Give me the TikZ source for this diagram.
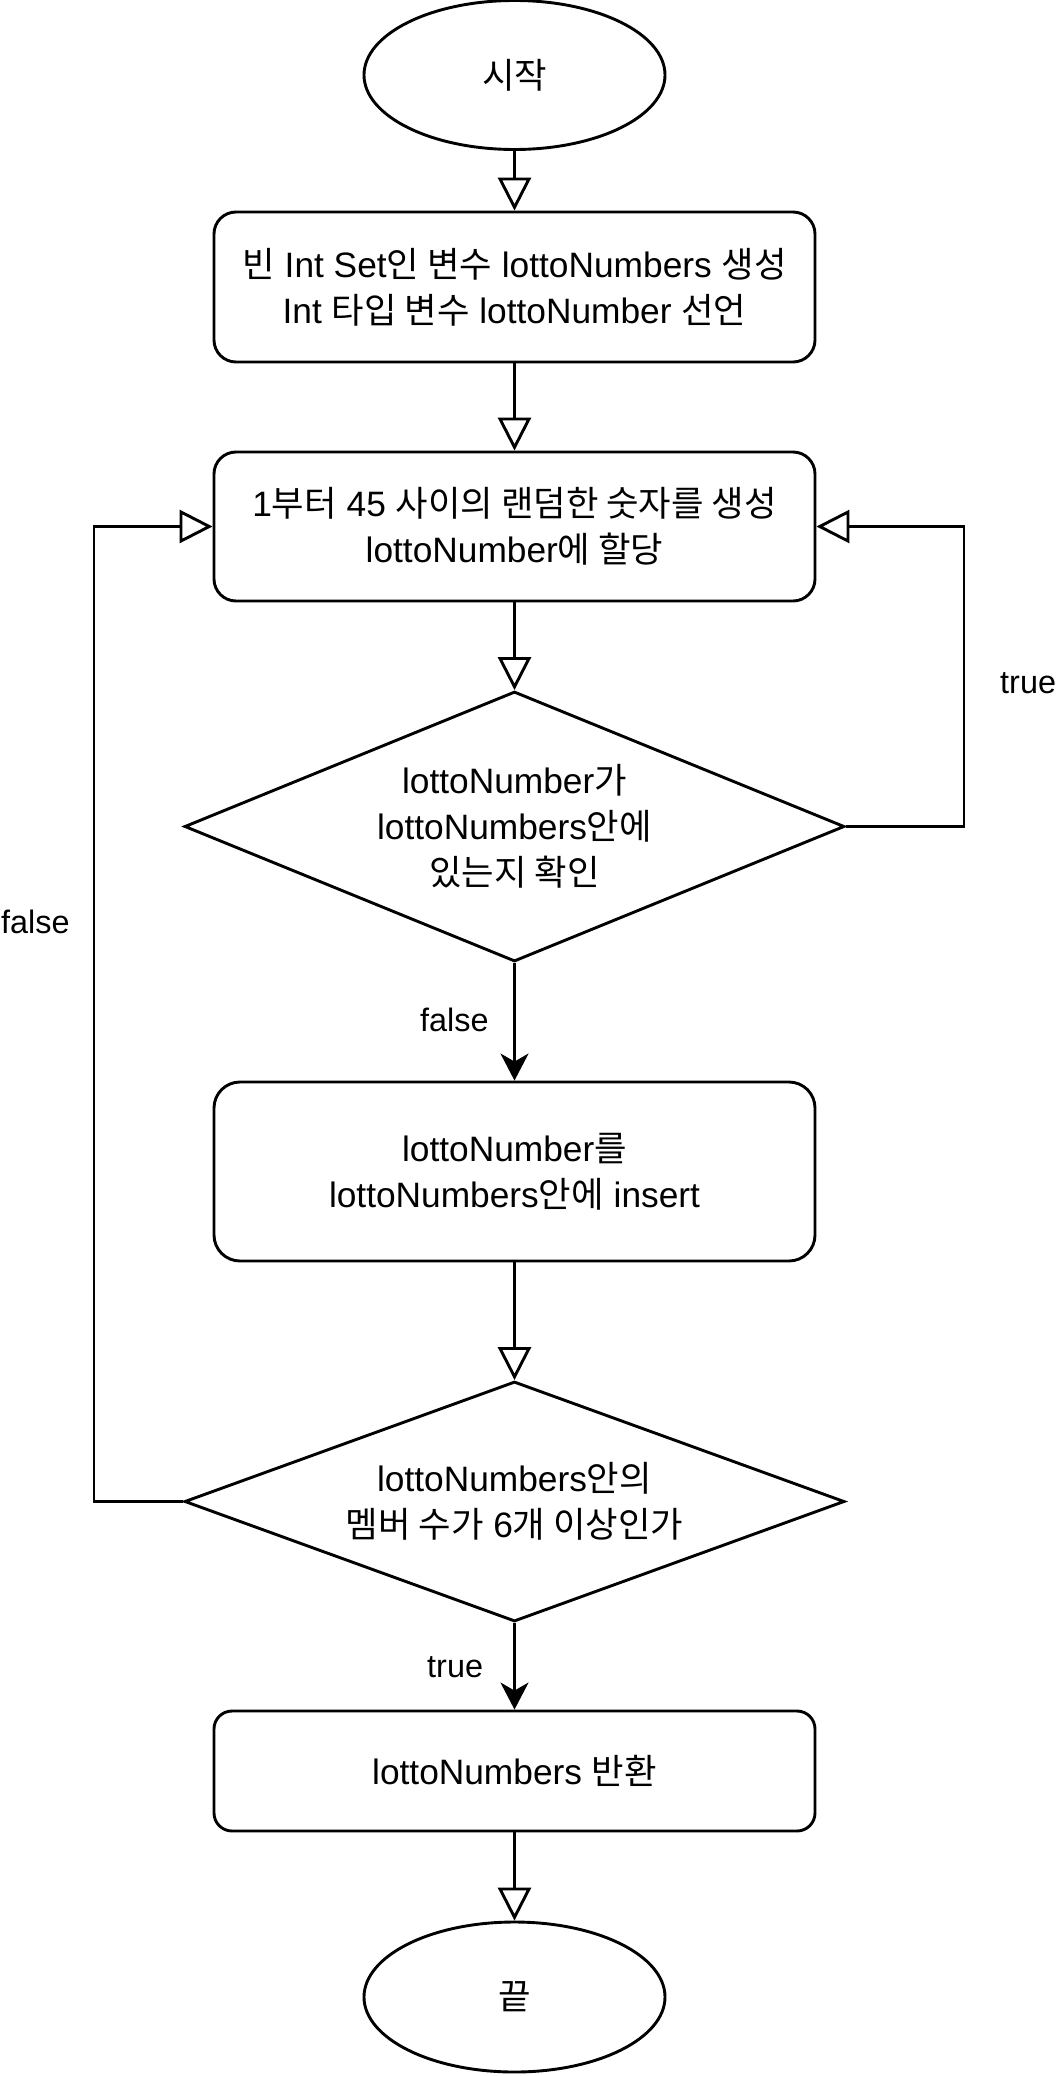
\documentclass[tikz,border=0pt]{standalone}
\usepackage{fontspec}
\setmainfont{Liberation Sans}
\newfontfamily\kr{Noto Sans CJK KR}
\usetikzlibrary{shapes.geometric,arrows.meta}
\begin{document}
\begin{tikzpicture}[x=1pt,y=-1pt,
  every node/.style={font=\fontsize{35.3}{46}\selectfont, align=center},
  lw/.style={line width=2.9pt},
  term/.style={ellipse, draw, lw, minimum width=301pt, minimum height=149pt, inner sep=0pt},
  proc/.style={rectangle, draw, lw, rounded corners=22pt, minimum width=601pt, inner sep=0pt},
  dec/.style={diamond, draw, lw, minimum width=660pt, inner sep=0pt},
  openarr/.style={lw, -{Triangle[length=33pt,width=33pt,fill=white]}},
  fillarr/.style={lw, -{Stealth[length=27pt,width=28pt,inset=8pt]}},
  elabel/.style={font=\fontsize{32.4}{39}\selectfont, inner sep=0pt, anchor=base west}
]
\fill[white] (0,0) rectangle (1056,2076);
\useasboundingbox (0,0) rectangle (1056,2076);

\node[term] (start) at (514.5,75) {{\kr 시작}};
\node[proc, minimum height=150pt] (b1) at (514.5,287)
  {{\kr 빈} Int Set{\kr 인 변수} lottoNumbers {\kr 생성}\\Int {\kr 타입 변수} lottoNumber {\kr 선언}};
\node[proc, minimum height=149pt] (b2) at (514.5,526.5)
  {1{\kr 부터} 45 {\kr 사이의 랜덤한 숫자를 생성}\\lottoNumber{\kr 에 할당}};
\node[dec, minimum height=270pt,
  label={[align=center]center:lottoNumber{\kr 가}\\lottoNumbers{\kr 안에}\\{\kr 있는지 확인}}]
  (d1) at (514.5,826.5) {};
\node[proc, minimum height=179pt, rounded corners=26pt] (b3) at (514.5,1171.5)
  {lottoNumber{\kr 를}\\lottoNumbers{\kr 안에} insert};
\node[dec, minimum height=240pt,
  label={[align=center]center:lottoNumbers{\kr 안의}\\{\kr 멤버 수가} 6{\kr 개 이상인가}}]
  (d2) at (514.5,1501.5) {};
\node[proc, minimum height=120pt, rounded corners=18pt] (b4) at (514.5,1771)
  {lottoNumbers {\kr 반환}};
\node[term, minimum height=150pt] (end) at (514.5,1997) {{\kr 끝}};

\coordinate (r1) at (964,826.5);
\coordinate (r2) at (964,526.5);
\coordinate (l1) at (94,1501.5);
\coordinate (l2) at (94,526.5);

\draw[openarr] (start) -- (b1);
\draw[openarr] (b1) -- (b2);
\draw[openarr] (b2) -- (d1);
\draw[fillarr] (d1.south) -- (b3.north);
\draw[openarr] (d1.east) -- (r1) -- (r2) -- (b2.east);
\draw[openarr] (b3) -- (d2);
\draw[openarr] (d2.west) -- (l1) -- (l2) -- (b2.west);
\draw[fillarr] (d2.south) -- (b4.north);
\draw[openarr] (b4) -- (end);

\node[elabel] (tr1) at (1000,693) {true};
\node[elabel] (fl1) at (420,1031) {false};
\node[elabel] (fl2) at (1,933) {false};
\node[elabel] (tr2) at (427,1677) {true};
\end{tikzpicture}
\end{document}
